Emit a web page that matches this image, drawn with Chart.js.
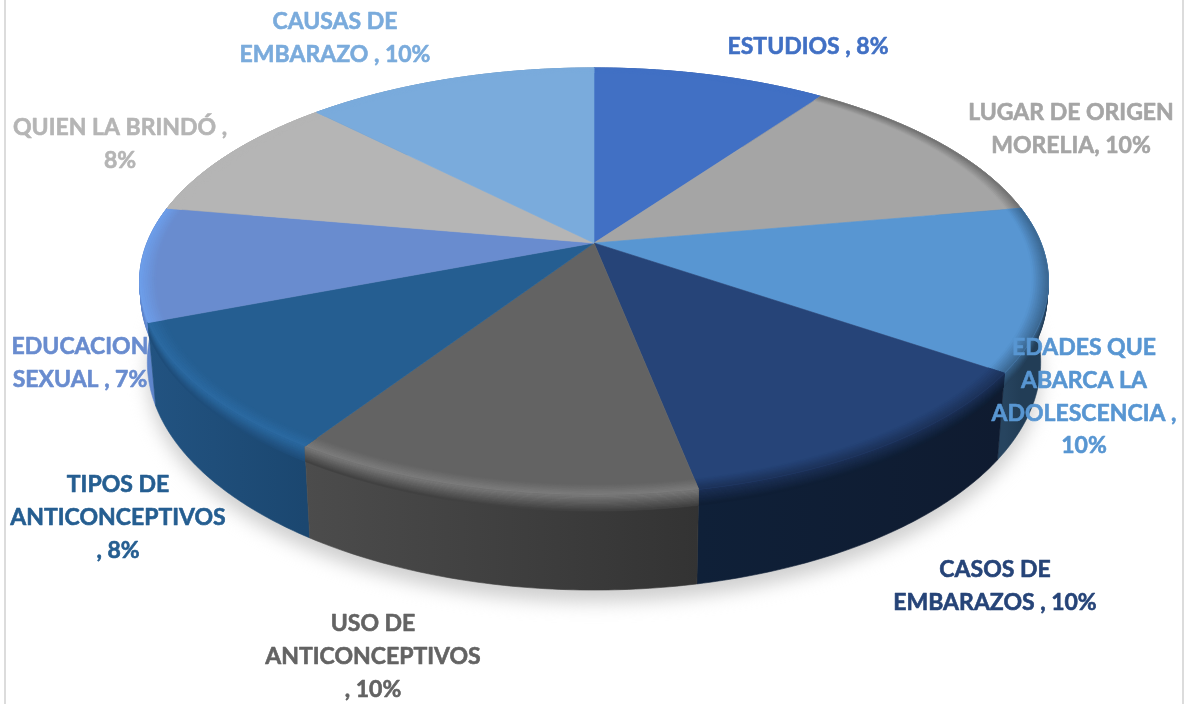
<!DOCTYPE html>
<html>
<head>
<meta charset="utf-8">
<style>
  html, body { margin: 0; padding: 0; background: #fff; }
  canvas { display: block; }
</style>
<script src="https://cdn.jsdelivr.net/npm/chart.js@4"></script>
</head>
<body>
<canvas id="chart" width="1188" height="704"></canvas>
<script>
const categories = ['ESTUDIOS', 'LUGAR DE ORIGEN MORELIA', 'EDADES QUE ABARCA LA ADOLESCENCIA', 'CASOS DE EMBARAZOS',
  'USO DE ANTICONCEPTIVOS', 'TIPOS DE ANTICONCEPTIVOS', 'EDUCACION SEXUAL', 'QUIEN LA BRINDÓ', 'CAUSAS DE EMBARAZO'];
const percents = [8, 10, 10, 10, 10, 8, 7, 8, 10];

const labelLines = [
  ['ESTUDIOS , 8%'],
  ['LUGAR DE ORIGEN', 'MORELIA, 10%'],
  ['EDADES QUE', 'ABARCA LA', 'ADOLESCENCIA ,', '10%'],
  ['CASOS DE', 'EMBARAZOS , 10%'],
  ['USO DE', 'ANTICONCEPTIVOS', ', 10%'],
  ['TIPOS DE', 'ANTICONCEPTIVOS', ', 8%'],
  ['EDUCACION', 'SEXUAL , 7%'],
  ['QUIEN LA BRINDÓ ,', '8%'],
  ['CAUSAS DE', 'EMBARAZO , 10%']
];

// centre x and first baseline of each label
const labelAnchors = [[808, 54], [1071, 120], [1084, 355], [995, 577], [373, 631], [118, 492], [80, 354], [120, 135], [335, 29]];

const topColors = ['#4170c4', '#a5a5a5', '#5896d2', '#264478', '#636363', '#255e91', '#698ccf', '#b5b5b5', '#7aabdc'];
const rimColors = ['#4170c4', '#6f6f6f', '#3a6690', '#1c3158', '#7d7d7d', '#2b6aa2', '#6d9feb', '#b5b5b5', '#7aabdc'];
const wallLeft = ['#2a4a80', '#6a6a6a', '#27445f', '#0f2038', '#4c4c4c', '#225381', '#5f86cc', '#777777', '#4f7090'];
const wallRight = ['#2a4a80', '#6a6a6a', '#223d56', '#0f1b30', '#333333', '#1b4770', '#5a7fc4', '#777777', '#4f7090'];

// projection of the pie plane onto the page
const cx = 594, cy = 243;
const scaleX = 447, scaleY = 206.6, persp = -0.18, depth = 78, converge = 0.017;

function project(angle, r, t) {
  const u = Math.cos(angle) * r, v = Math.sin(angle) * r;
  const w = 1 + persp * v;
  return [cx + scaleX * u / w * (1 - converge * t), cy + (scaleY * v + depth * t) / w];
}

function mix(a, b, f) {
  const pa = parseInt(a.slice(1), 16), pb = parseInt(b.slice(1), 16);
  const ch = s => Math.round(((pa >> s) & 255) * (1 - f) + ((pb >> s) & 255) * f);
  return '#' + [16, 8, 0].map(s => ch(s).toString(16).padStart(2, '0')).join('');
}

function band(ctx, arc, r0, t0, r1, t1, fill) {
  const steps = 60;
  ctx.beginPath();
  for (let i = 0; i <= steps; i++) {
    const a = arc.startAngle + (arc.endAngle - arc.startAngle) * i / steps;
    const p = project(a, r0, t0);
    i ? ctx.lineTo(p[0], p[1]) : ctx.moveTo(p[0], p[1]);
  }
  for (let i = steps; i >= 0; i--) {
    const a = arc.startAngle + (arc.endAngle - arc.startAngle) * i / steps;
    const p = project(a, r1, t1);
    ctx.lineTo(p[0], p[1]);
  }
  ctx.closePath();
  ctx.fillStyle = fill;
  ctx.strokeStyle = fill;
  ctx.lineWidth = 0.6;
  ctx.fill();
  ctx.stroke();
}

function circlePath(ctx, t) {
  ctx.beginPath();
  for (let i = 0; i <= 240; i++) {
    const p = project(i / 240 * Math.PI * 2, 1, t);
    i ? ctx.lineTo(p[0], p[1]) : ctx.moveTo(p[0], p[1]);
  }
  ctx.closePath();
}

const pie3d = {
  id: 'pie3d',
  beforeDraw(chart) {
    const ctx = chart.ctx;
    ctx.fillStyle = '#fff';
    ctx.fillRect(0, 0, chart.width, chart.height);
    ctx.fillStyle = '#dcdcdc';
    ctx.fillRect(4, 0, 2, chart.height);
    ctx.fillRect(1182, 0, 2, chart.height);
  },
  beforeDatasetDraw(chart, args) {
    const ctx = chart.ctx;
    const arcs = args.meta.data;
    ctx.save();

    // soft shadow on the floor
    ctx.save();
    ctx.filter = 'blur(9px)';
    ctx.translate(0, 12);
    circlePath(ctx, 1);
    ctx.fillStyle = '#cfcfcf';
    ctx.fill();
    ctx.restore();

    // walls, back ones first
    const order = arcs.map((a, i) => i).sort((p, q) =>
      Math.sin((arcs[p].startAngle + arcs[p].endAngle) / 2) - Math.sin((arcs[q].startAngle + arcs[q].endAngle) / 2));
    order.forEach(i => {
      const arc = arcs[i];
      const a0 = project(arc.endAngle, 1, 0)[0], a1 = project(arc.startAngle, 1, 0)[0];
      const grad = ctx.createLinearGradient(Math.min(a0, a1), 0, Math.max(a0, a1), 0);
      grad.addColorStop(0, wallLeft[i]);
      grad.addColorStop(1, wallRight[i]);
      band(ctx, arc, 1, 0, 1, 1, grad);
      const wall = mix(wallLeft[i], wallRight[i], 0.5);
      const n = 14;
      for (let s = 0; s < n; s++) {
        const f = (s + 0.5) / n;
        band(ctx, arc, 1, 0.17 * s / n, 1, 0.17 * (s + 1) / n, mix(rimColors[i], wall, f));
      }
    });

    // top face with a narrow lit rim
    arcs.forEach((arc, i) => {
      band(ctx, arc, 0, 0, 1, 0, topColors[i]);
      const n = 8;
      for (let s = 0; s < n; s++) {
        const r0 = 0.965 + 0.035 * s / n, r1 = 0.965 + 0.035 * (s + 1) / n;
        band(ctx, arc, r0, 0, r1, 0, mix(topColors[i], rimColors[i], (s + 0.5) / n));
      }
    });
    ctx.restore();
    return false;
  },
  afterDraw(chart) {
    const ctx = chart.ctx;
    ctx.save();
    ctx.font = 'bold 23px Lato, "Open Sans", sans-serif';
    ctx.textAlign = 'center';
    ctx.textBaseline = 'alphabetic';
    ctx.lineWidth = 0.6;
    ctx.lineJoin = 'round';
    labelLines.forEach((lines, i) => {
      ctx.fillStyle = topColors[i];
      ctx.strokeStyle = topColors[i];
      lines.forEach((line, j) => {
        const x = labelAnchors[i][0], y = labelAnchors[i][1] + j * 32.8;
        ctx.fillText(line, x, y);
        ctx.strokeText(line, x, y);
      });
    });
    ctx.restore();
  }
};

new Chart(document.getElementById('chart').getContext('2d'), {
  type: 'pie',
  data: {
    labels: categories,
    datasets: [{ data: percents, backgroundColor: topColors, borderWidth: 0 }]
  },
  options: {
    responsive: false,
    animation: false,
    events: [],
    plugins: { legend: { display: false }, tooltip: { enabled: false } }
  },
  plugins: [pie3d]
});
</script>
</body>
</html>
